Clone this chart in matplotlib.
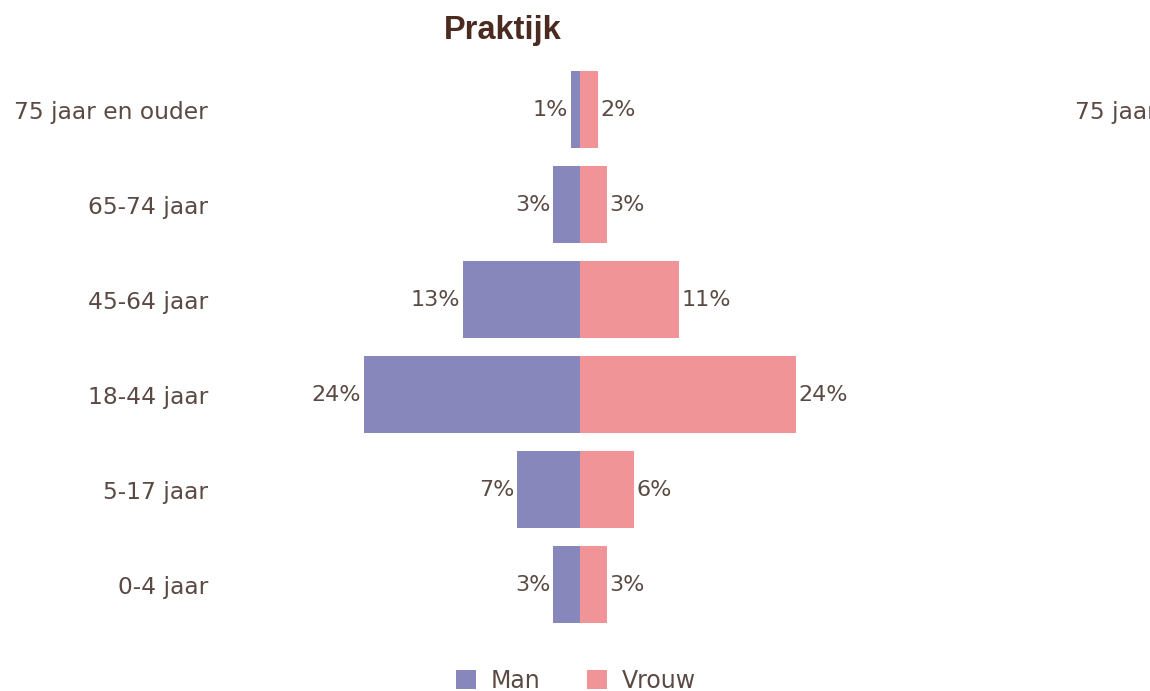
import matplotlib
matplotlib.use("Agg")
import matplotlib.pyplot as plt

# leeftijdsgroepen van onder naar boven
groepen = ['0-4 jaar', '5-17 jaar', '18-44 jaar', '45-64 jaar', '65-74 jaar', '75 jaar en ouder']
man = [3, 7, 24, 13, 3, 1]
vrouw = [3, 6, 24, 11, 3, 2]

kleur_man = '#8887bb'
kleur_vrouw = '#f09497'
tekst = '#5b4a43'

fig = plt.figure(figsize=(11.5, 6.91), dpi=100)
ax = fig.add_axes([0, 0, 1, 1])
# assen zo gekozen dat 0 op ~580px ligt en 1% ~9px is
ax.set_xlim(-580 / 9, 570 / 9)
ax.set_ylim((584.5 - 691) / 95, 584.5 / 95)
ax.axis('off')

y = list(range(len(groepen)))
b1 = ax.barh(y, [-m for m in man], height=0.81, color=kleur_man, label='Man')
b2 = ax.barh(y, vrouw, height=0.81, color=kleur_vrouw, label='Vrouw')

for i in y:
    ax.text(-man[i] - 0.3, i - 0.01, f'{man[i]}%', ha='right', va='center', fontsize=16, color=tekst)
    ax.text(vrouw[i] + 0.3, i - 0.01, f'{vrouw[i]}%', ha='left', va='center', fontsize=16, color=tekst)
    ax.text(-41.3, i - 0.03, groepen[i], ha='right', va='center', fontsize=16.8, color=tekst)

# afgesneden label van de tweede grafiek rechts
ax.text(55.0, 5 - 0.03, groepen[-1], ha='left', va='center', fontsize=16.8, color=tekst)

fig.text(503 / 1150, 1 - 30 / 691, 'Praktijk', ha='center', va='center',
         fontsize=23.5, fontweight='bold', color='#4b2a20', family='Liberation Sans')

leg = ax.legend(handles=[b1, b2], loc='center', bbox_to_anchor=(576 / 1150, 10 / 691),
                bbox_transform=fig.transFigure, ncol=2, frameon=False, fontsize=17,
                handlelength=0.85, handleheight=0.85, columnspacing=2.0, handletextpad=0.6)
for t in leg.get_texts():
    t.set_color(tekst)

fig.savefig('out.png', dpi=100)
